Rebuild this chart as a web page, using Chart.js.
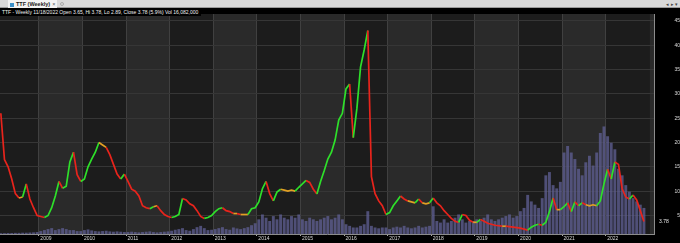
<!DOCTYPE html>
<html>
<head>
<meta charset="utf-8">
<script src="https://cdn.jsdelivr.net/npm/chart.js@4.4.0/dist/chart.umd.min.js"></script>
<style>
html, body { margin: 0; padding: 0; background: #000; width: 680px; height: 243px; overflow: hidden; font-family: "Liberation Sans", Arial, sans-serif; }
#top { position: absolute; left: 0; top: 0; width: 680px; height: 8px; background: #d8d8d8; border-bottom: 1px solid #9a9a9a; box-sizing: border-box; }
#tab { position: absolute; left: 8px; top: 0; width: 49px; height: 8px; background: #f2f2f2; font-size: 5.5px; line-height: 8px; font-weight: bold; color: #1a1a1a; white-space: nowrap; }
#ico { display: inline-block; width: 4px; height: 4px; background: #3a8fc8; margin: 0 2px 0 2px; vertical-align: middle; }
#tab .x { font-weight: normal; color: #555; margin-left: 2px; }
#ico2 { position: absolute; left: 60px; top: 2px; width: 4px; height: 4px; border: 1px solid #aaa; border-radius: 3px; box-sizing: border-box; }
#nav { position: absolute; right: 2px; top: 0; font-size: 5px; line-height: 8px; color: #444; }
#info { position: absolute; left: 0; top: 9px; z-index: 2; background: #000; color: #f0f0f0; font-size: 5px; line-height: 7px; padding: 0 3px 0 2px; white-space: nowrap; }
#c { position: absolute; left: 0; top: 8px; }
</style>
</head>
<body>
<div id="top">
  <div id="tab"><span id="ico"></span>TTF (Weekly)<span class="x">×</span></div>
  <span id="ico2"></span>
  <div id="nav">◂ ▸ ▾</div>
</div>
<div id="info">TTF - Weekly 11/18/2022 Open 3.65, Hi 3.78, Lo 2.89, Close 3.78 (5.9%) Vol 16,082,000</div>
<canvas id="c" width="680" height="235"></canvas>
<script>
// monthly closes, Feb 2008 .. Nov 2022
var startYear = 2008, startMonth = 2;
var closes = [
  26, 16.5, 15, 12.5, 9.5, 8.6, 8.8, 11.5, 8.4, 6.6, 5.0,
  4.8, 4.6, 5.0, 6.6, 9.0, 12, 10.6, 11, 16, 18, 13.4, 12,
  12.5, 15, 16.6, 18, 20, 19.5, 19, 17.5, 15.5, 13.5, 12.5, 13.5,
  12, 10.4, 10, 9.0, 7.0, 6.6, 6.4, 6.8, 7.0, 6.0, 5.2, 4.8,
  4.6, 4.8, 5.2, 8.5, 8.2, 7.4, 7.0, 6.0, 4.8, 4.4, 4.6, 5.0,
  5.8, 6.4, 6.6, 6.0, 5.8, 5.4, 5.4, 5.2, 5.2, 5.2, 6.4, 6.6,
  7.8, 10.5, 12, 9.5, 8, 9.8, 10.4, 10.2, 10, 10.2, 10, 10.8,
  11.5, 12.2, 11.8, 10.4, 9.4, 12, 14.2, 16.6, 18, 20.5, 24.6, 26,
  31, 32, 21, 27, 35.5, 39, 43, 13, 9.5, 8, 7, 5.2,
  5.6, 7.0, 8.0, 9.0, 8.4, 8.0, 7.8, 7.6, 8.4, 7.6, 7.4, 7.6,
  8.6, 7.6, 7.0, 6.0, 5.2, 4.4, 3.8, 3.6, 5.2, 5.0, 4.0, 3.6,
  3.6, 4.2, 3.8, 3.4, 3.2, 3.0, 2.9, 2.8, 2.8, 2.7, 2.6, 2.5,
  2.4, 2.2, 2.0, 2.6, 3.0, 3.2, 3.0, 3.6, 5.8, 8.6, 6.2, 6.2,
  6.8, 7.6, 5.8, 7.8, 7.0, 7.6, 7.2, 7.0, 7.2, 7.0, 8.0, 11.5,
  14.5, 12.5, 16, 15.5, 10.5, 8.8, 8.4, 9.2, 8.2, 6.0, 3.78
];
// weekly volume, millions (monthly reading)
var volumes = [
  0.5, 0.5, 0.6, 0.6, 0.7, 0.7, 0.8, 0.8, 0.9, 1.0, 1.2,
  1.8, 2.4, 3, 3.6, 2.4, 3, 3.6, 3, 2.4, 2.4, 1.8, 1.8,
  2.4, 2.8, 2.2, 1.8, 1.6, 1.8, 2.0, 1.6, 1.4, 1.6, 1.4, 1.2,
  1.2, 1.4, 1.2, 1.0, 1.2, 1.4, 1.6, 1.2, 1.0, 1.2, 1.4, 1.6,
  2.0, 2.6, 3.0, 3.6, 2.4, 2.0, 3.0, 4.2, 5.0, 3.6, 2.4, 2.6,
  3.0, 3.6, 4.2, 3.0, 2.6, 4.0, 3.4, 3.0, 3.6, 4.2, 5.4, 6.6,
  9, 12, 10, 8, 11, 9, 12, 10, 9, 11, 10, 12,
  9, 8, 10, 9, 8, 9, 10, 11, 9, 10, 12, 9,
  6, 5, 4, 4, 5, 6, 14, 5, 4, 3.5, 4, 4,
  3, 4, 4.5, 4, 5, 4, 3.5, 4, 5, 4, 4.5, 5,
  17, 8, 7, 9, 7, 8, 10, 12, 9, 7, 8, 8,
  9, 8, 10, 12, 9, 8, 9, 10, 11, 12, 10, 11,
  14, 16, 24, 20, 18, 16, 22, 36, 38, 30, 28, 32,
  50, 54, 50, 46, 40, 36, 44, 48, 42, 50, 62, 66,
  60, 56, 52, 40, 36, 30, 26, 22, 20, 18, 16
];
var priceTicks = [5, 10, 15, 20, 25, 30, 35, 40, 45];
var yearTicks = [2009, 2010, 2011, 2012, 2013, 2014, 2015, 2016, 2017, 2018, 2019, 2020, 2021, 2022];
var lastClose = 3.78;

var months = closes.map(function (_, i) { return startYear + (startMonth - 1 + i + 0.5) / 12; });

var green = '#2ee02a', red = '#e8241c', orange = '#e2a024';

var bandsPlugin = {
  id: 'bands',
  beforeDraw: function (chart) {
    var ctx = chart.ctx, a = chart.chartArea, x = chart.scales.x;
    ctx.save();
    ctx.fillStyle = '#000';
    ctx.fillRect(0, 0, chart.width, chart.height);
    for (var yr = 2008; yr <= 2023; yr++) {
      var l = Math.max(a.left, x.getPixelForValue(yr));
      var r = Math.min(a.right, x.getPixelForValue(yr + 1));
      if (r <= l) continue;
      ctx.fillStyle = yr % 2 ? '#2a2a2a' : '#1c1c1c';
      ctx.fillRect(l, a.top, r - l, a.bottom - a.top);
    }
    ctx.restore();
  },
  afterDraw: function (chart) {
    var ctx = chart.ctx, y = chart.scales.y;
    ctx.save();
    ctx.font = '5px "Liberation Sans", Arial, sans-serif';
    ctx.fillStyle = '#e8e8e8';
    ctx.textBaseline = 'middle';
    ctx.textAlign = 'left';
    ctx.fillText(lastClose.toFixed(2), chart.chartArea.right + 5, y.getPixelForValue(lastClose));
    ctx.restore();
  }
};

new Chart(document.getElementById('c'), {
  type: 'bar',
  data: {
    datasets: [
      {
        type: 'line',
        label: 'TTF',
        data: months.map(function (t, i) { return { x: t, y: closes[i] }; }),
        yAxisID: 'y',
        order: 1,
        borderWidth: 1.7,
        borderColor: green,
        pointRadius: 0,
        tension: 0,
        segment: {
          borderColor: function (c) {
            var a = c.p0.parsed.y, b = c.p1.parsed.y;
            if (Math.abs(b - a) / a < 0.03) return orange;
            return b > a ? green : red;
          }
        }
      },
      {
        type: 'bar',
        label: 'Vol',
        data: months.map(function (t, i) { return { x: t, y: volumes[i] }; }),
        yAxisID: 'vol',
        order: 2,
        backgroundColor: 'rgba(96,96,150,0.75)',
        barPercentage: 0.8,
        categoryPercentage: 1
      }
    ]
  },
  options: {
    responsive: false,
    animation: false,
    devicePixelRatio: 1,
    layout: { padding: 0 },
    plugins: { legend: { display: false }, tooltip: { enabled: false } },
    scales: {
      x: {
        type: 'linear',
        min: 2008.106,
        max: 2023.106,
        offset: false,
        grid: { color: '#404040', offset: false, drawTicks: true, tickLength: 2, tickColor: '#aaa' },
        border: { color: '#8c8c8c' },
        ticks: {
          autoSkip: false, maxRotation: 0, align: 'start', padding: 0,
          color: '#dcdcdc', font: { size: 5, family: '"Liberation Sans", Arial, sans-serif' },
          callback: function (v) { return ' ' + v; }
        },
        afterBuildTicks: function (s) { s.ticks = yearTicks.map(function (v) { return { value: v }; }); },
        afterFit: function (s) { s.height = 9; }
      },
      y: {
        position: 'right',
        min: 1.2,
        max: 46.4,
        grid: { color: '#363636', drawTicks: false },
        border: { color: '#8c8c8c' },
        ticks: {
          color: '#dcdcdc', crossAlign: 'far', padding: 3,
          font: { size: 5, family: '"Liberation Sans", Arial, sans-serif' }
        },
        afterBuildTicks: function (s) { s.ticks = priceTicks.map(function (v) { return { value: v }; }); },
        afterFit: function (s) { s.width = 26; }
      },
      vol: {
        display: false,
        min: 0,
        max: 135
      }
    }
  },
  plugins: [bandsPlugin]
});
</script>
</body>
</html>
